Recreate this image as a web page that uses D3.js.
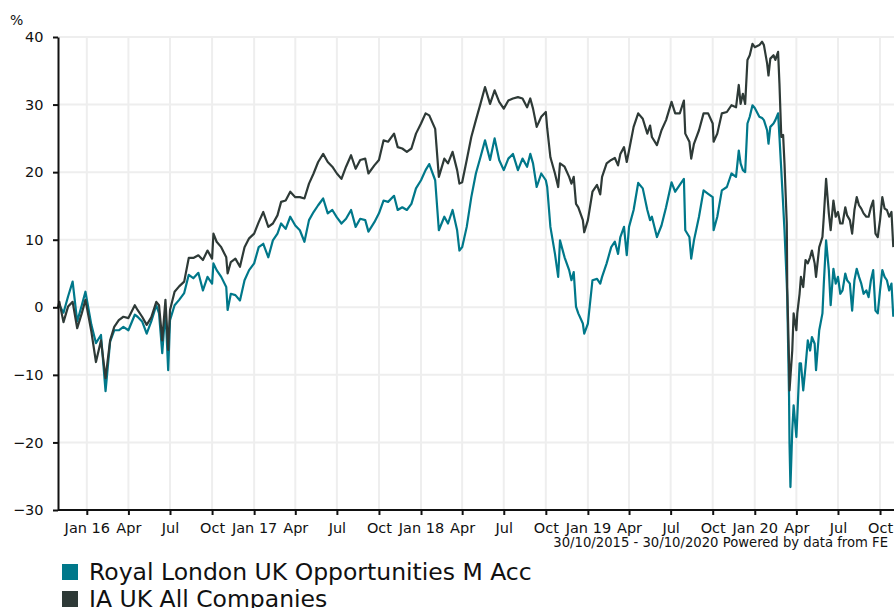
<!DOCTYPE html>
<html>
<head>
<meta charset="utf-8">
<script src="https://cdn.jsdelivr.net/npm/d3@7"></script>
<style>
  html, body { margin: 0; padding: 0; background: #fff; }
  svg { display: block; font-family: "DejaVu Sans", Verdana, sans-serif; }
</style>
</head>
<body>
<svg id="chart" width="894" height="608"></svg>
<script>
// ---- data ----
const dates = [
  "2015-10-30","2015-11-02","2015-11-11","2015-11-21","2015-12-01","2015-12-11","2015-12-21","2015-12-29",
  "2016-01-11","2016-01-21","2016-02-01","2016-02-11","2016-02-21","2016-03-01","2016-03-11","2016-03-21",
  "2016-04-01","2016-04-15","2016-04-21","2016-05-01","2016-05-11","2016-05-21","2016-06-01","2016-06-07","2016-06-14","2016-06-21","2016-06-27",
  "2016-07-01","2016-07-11","2016-07-21","2016-08-01","2016-08-11","2016-08-21","2016-09-01","2016-09-11","2016-09-21",
  "2016-10-01","2016-10-04","2016-10-11","2016-10-21","2016-11-01","2016-11-04","2016-11-11","2016-11-21","2016-12-01","2016-12-11","2016-12-21",
  "2017-01-01","2017-01-11","2017-01-21","2017-02-01","2017-02-11","2017-02-21","2017-03-01","2017-03-11","2017-03-21",
  "2017-04-01","2017-04-11","2017-04-21","2017-05-01","2017-05-11","2017-05-21","2017-06-01","2017-06-11","2017-06-21",
  "2017-07-01","2017-07-11","2017-07-21","2017-08-01","2017-08-11","2017-08-21","2017-09-01","2017-09-08","2017-09-21",
  "2017-10-01","2017-10-11","2017-10-21","2017-11-03","2017-11-11","2017-11-21","2017-12-01","2017-12-11","2017-12-21",
  "2018-01-01","2018-01-11","2018-01-19","2018-02-01","2018-02-09","2018-02-21","2018-03-01","2018-03-11","2018-03-21","2018-03-26",
  "2018-04-01","2018-04-11","2018-04-21","2018-05-01","2018-05-11","2018-05-21","2018-06-01","2018-06-11","2018-06-21",
  "2018-07-01","2018-07-11","2018-07-21","2018-08-01","2018-08-11","2018-08-21","2018-08-28","2018-09-03","2018-09-11","2018-09-21",
  "2018-10-01","2018-10-04","2018-10-11","2018-10-21","2018-10-28","2018-11-01","2018-11-11","2018-11-21","2018-11-26","2018-12-01","2018-12-06","2018-12-11","2018-12-21","2018-12-24",
  "2019-01-01","2019-01-11","2019-01-21","2019-01-28","2019-02-01","2019-02-11","2019-02-21","2019-03-01","2019-03-08","2019-03-13","2019-03-21","2019-03-27",
  "2019-04-01","2019-04-11","2019-04-21","2019-05-01","2019-05-11","2019-05-17","2019-05-21","2019-06-01","2019-06-11","2019-06-21",
  "2019-07-03","2019-07-11","2019-07-21","2019-07-30","2019-08-02","2019-08-11","2019-08-15","2019-08-21","2019-09-01","2019-09-11","2019-09-21",
  "2019-10-01","2019-10-03","2019-10-11","2019-10-21","2019-11-01","2019-11-11","2019-11-21","2019-11-27","2019-12-01","2019-12-06","2019-12-11","2019-12-16","2019-12-21","2019-12-27",
  "2020-01-01","2020-01-11","2020-01-17","2020-01-21","2020-01-28","2020-01-31","2020-02-04","2020-02-11","2020-02-15","2020-02-21","2020-02-24","2020-02-28","2020-03-03","2020-03-06","2020-03-11","2020-03-12","2020-03-16","2020-03-17","2020-03-19","2020-03-23","2020-03-26",
  "2020-04-01","2020-04-03","2020-04-08","2020-04-11","2020-04-16","2020-04-21","2020-04-26","2020-05-01","2020-05-05","2020-05-11","2020-05-14","2020-05-21","2020-05-28","2020-05-31","2020-06-05","2020-06-11","2020-06-15","2020-06-21","2020-06-26",
  "2020-07-01","2020-07-06","2020-07-11","2020-07-17","2020-07-21","2020-07-27","2020-08-01","2020-08-06","2020-08-11","2020-08-16","2020-08-21","2020-08-26","2020-09-01","2020-09-06","2020-09-11","2020-09-16","2020-09-21","2020-09-26",
  "2020-10-01","2020-10-06","2020-10-11","2020-10-16","2020-10-21","2020-10-26","2020-10-30"
];

// IA UK All Companies (%)
const iaUkAllCompanies = [
  0,0.8,-2.2,0.1,0.8,-3.1,-0.9,1.1,
  -3.6,-8.1,-4.9,-10.5,-4.9,-2.9,-1.9,-1.4,
  -1.6,0.3,-0.4,-1.4,-2.6,-1.5,0.8,0.3,-4.9,1.1,-6.3,
  -0.4,2.3,3.1,3.8,7.3,7.3,7.7,7.0,8.4,
  7.2,10.9,9.7,8.9,7.4,5.0,6.7,7.2,6.0,8.9,10.2,
  10.9,12.6,14.1,11.9,12.4,13.6,15.6,15.8,17.1,
  16.3,16.3,16.1,18.3,19.8,21.5,22.7,21.5,20.8,
  19.8,19.0,20.8,22.5,20.5,21.8,22.0,19.8,21.0,
  21.8,24.7,24.5,25.7,23.7,23.5,23.0,23.5,25.7,
  27.2,28.7,28.4,26.4,19.3,22.0,21.3,23.0,20.3,18.3,
  18.5,21.8,25.2,27.7,30.1,32.6,30.1,32.1,30.4,
  29.4,30.6,30.9,31.1,30.9,29.6,30.9,29.4,26.7,28.2,
  28.9,26.5,22.2,19.8,17.8,21.3,20.8,19.3,18.3,19.3,15.3,14.8,12.9,11.1,
  12.9,17.1,18.1,16.7,19.3,21.3,21.8,22.1,21.0,22.7,23.7,21.5,
  23.2,26.7,28.7,27.9,25.7,26.9,25.2,24.0,26.2,27.7,
  30.4,28.7,28.7,30.6,25.7,24.5,22.0,24.2,26.2,28.7,28.7,
  27.2,24.5,25.7,28.7,28.9,29.9,29.6,32.9,30.1,31.6,30.1,36.6,37.3,39.0,
  38.5,38.8,39.3,38.8,36.1,34.3,36.8,37.3,36.6,37.8,33.1,25.2,25.5,21.3,12.4,3.0,-8.3,-12.3,-10.3,-6.4,-0.9,
  -3.4,-0.9,2.0,4.5,3.0,7.0,6.5,7.4,8.4,6.5,4.5,8.9,10.4,13.4,19.0,13.9,11.4,15.8,13.4,
  14.1,12.4,12.4,14.8,13.6,12.9,10.9,14.4,16.3,15.1,14.6,13.9,13.4,13.4,14.8,15.8,10.9,10.4,
  12.9,16.3,14.6,14.4,13.4,14.1,8.9
];

// Royal London UK Opportunities M Acc (%)
const rlUkOpportunities = [
  0,0.3,-0.8,1.6,3.8,-2.1,0.3,2.3,
  -2.6,-5.3,-4.1,-12.4,-5.1,-3.4,-3.4,-2.9,
  -3.4,-1.1,-1.4,-2.1,-3.9,-2.1,0.3,-0.9,-6.8,-0.4,-9.3,
  -1.9,0.3,1.1,2.1,4.8,4.3,5.1,2.5,4.5,
  3.5,6.5,5.5,4.5,3.0,-0.4,2.0,1.8,1.0,4.0,5.5,
  6.5,8.9,9.4,7.4,9.9,10.9,12.4,11.6,13.4,
  12.1,11.4,9.7,12.9,14.1,15.1,16.1,13.9,14.4,
  13.3,12.4,13.1,14.4,11.9,13.1,12.9,11.2,12.6,
  13.9,15.8,15.6,16.5,14.4,14.8,14.4,15.3,17.6,
  18.8,20.3,21.2,18.8,11.4,13.4,12.4,14.4,11.4,8.4,
  8.9,11.9,16.3,19.8,22.2,24.7,21.8,25.0,21.8,
  20.3,22.0,22.7,20.3,22.0,20.8,22.7,21.3,17.8,19.8,
  18.8,17.8,11.9,7.9,4.5,9.9,7.4,5.5,4.0,5.2,0.1,-0.9,-2.4,-3.9,
  -2.4,4.0,4.2,3.5,4.5,6.5,8.9,9.7,7.9,10.4,11.9,7.7,
  11.9,14.4,18.4,17.6,14.4,12.9,13.4,10.4,12.1,14.8,
  18.5,17.1,18.1,19.0,11.4,10.4,7.2,9.9,13.4,17.3,16.8,
  16.3,11.4,13.4,17.3,17.8,19.8,19.3,23.2,21.3,20.3,20.0,27.2,28.2,29.9,
  29.5,28.2,28.0,27.7,26.2,24.2,26.7,27.2,27.7,28.7,25.2,20.3,15.3,11.4,3.5,1.5,-13.3,-20.2,-26.6,-18.2,-14.5,
  -19.2,-16.2,-8.3,-8.3,-12.3,-8.8,-4.9,-6.4,-4.4,-5.4,-9.3,-3.4,-0.9,3.5,9.9,5.5,0.3,5.7,3.5,
  4.5,2.0,2.5,5.0,4.0,3.5,-0.5,4.0,5.7,4.5,3.5,2.0,2.5,1.5,4.0,5.5,-0.5,-0.9,
  2.5,5.5,4.5,4.0,2.5,3.5,-1.4
];

const seriesNames = ["Royal London UK Opportunities M Acc", "IA UK All Companies"];
const seriesColors = ["#00788a", "#2e3a37"];
const yTickValues = [-30, -20, -10, 0, 10, 20, 30, 40];
const monthNames = ["Jan","Feb","Mar","Apr","May","Jun","Jul","Aug","Sep","Oct","Nov","Dec"];
const periodStart = "2015-10-30", periodEnd = "2020-10-30";
const footerText = "30/10/2015 - 30/10/2020 Powered by data from FE";

if (dates.length !== iaUkAllCompanies.length || dates.length !== rlUkOpportunities.length) {
  console.error("length mismatch", dates.length, iaUkAllCompanies.length, rlUkOpportunities.length);
}

// ---- drawing ----
const parse = d3.utcParse("%Y-%m-%d");
const svg = d3.select("#chart");
const x = d3.scaleUtc().domain([parse(periodStart), parse(periodEnd)]).range([58, 893.3]);
const y = d3.scaleLinear().domain([-30, 40]).range([510, 37]);

const xTicks = d3.utcMonth.every(3).range(parse("2016-01-01"), parse(periodEnd));

// grid
const grid = svg.append("g").attr("stroke", "#eeeeee").attr("stroke-width", 2);
grid.selectAll("line.h").data(yTickValues.filter(v => v > -30)).join("line")
  .attr("x1", 58).attr("x2", 894).attr("y1", d => y(d)).attr("y2", d => y(d));
grid.selectAll("line.v").data(xTicks).join("line")
  .attr("x1", d => x(d)).attr("x2", d => x(d)).attr("y1", y(40)).attr("y2", y(-30));

// lines
const rows = dates.map((d, i) => ({ date: parse(d), ia: iaUkAllCompanies[i], rl: rlUkOpportunities[i] }));
const lineRl = d3.line().x(d => x(d.date)).y(d => y(d.rl));
const lineIa = d3.line().x(d => x(d.date)).y(d => y(d.ia));
svg.append("path").datum(rows).attr("d", lineRl)
  .attr("fill", "none").attr("stroke", seriesColors[0]).attr("stroke-width", 2.2).attr("stroke-linejoin", "round");
svg.append("path").datum(rows).attr("d", lineIa)
  .attr("fill", "none").attr("stroke", seriesColors[1]).attr("stroke-width", 2.2).attr("stroke-linejoin", "round");

// axes
const fmt = d => d.getUTCMonth() === 0 ? "Jan " + d3.utcFormat("%y")(d) : monthNames[d.getUTCMonth()];
const xAxis = d3.axisBottom(x).tickValues(xTicks).tickFormat(fmt).tickSize(5).tickSizeOuter(0).tickPadding(8);
const gx = svg.append("g").attr("transform", "translate(0,510)").call(xAxis);
gx.select(".domain").attr("stroke", "#111").attr("stroke-width", 2).attr("d", "M58,0H894");
gx.selectAll(".tick line").attr("stroke", "#111").attr("stroke-width", 2);
gx.selectAll(".tick text").attr("font-size", 14.5).attr("fill", "#111").attr("font-family", "DejaVu Sans, Verdana, sans-serif");

const yAxis = d3.axisLeft(y).tickValues(yTickValues).tickSize(5).tickSizeOuter(0).tickPadding(9.5);
const gy = svg.append("g").attr("transform", "translate(58,0)").call(yAxis);
gy.select(".domain").attr("stroke", "#111").attr("stroke-width", 2);
gy.selectAll(".tick line").attr("stroke", "#111").attr("stroke-width", 2);
gy.selectAll(".tick text").attr("font-size", 14.5).attr("fill", "#111").attr("font-family", "DejaVu Sans, Verdana, sans-serif");

svg.append("text").attr("x", 10).attr("y", 25).attr("font-size", 14).attr("fill", "#111").text("%");

svg.append("text").attr("x", 888).attr("y", 547).attr("text-anchor", "end")
  .attr("font-size", 13.2).attr("fill", "#111").text(footerText);

// legend
const lg = svg.append("g");
seriesNames.forEach((name, i) => {
  lg.append("rect").attr("x", 62).attr("y", 564 + i * 27).attr("width", 16).attr("height", 16).attr("fill", seriesColors[i]);
  lg.append("text").attr("x", 89).attr("y", 580 + i * 27).attr("font-size", 23.5).attr("fill", "#111").text(name);
});
</script>
</body>
</html>
